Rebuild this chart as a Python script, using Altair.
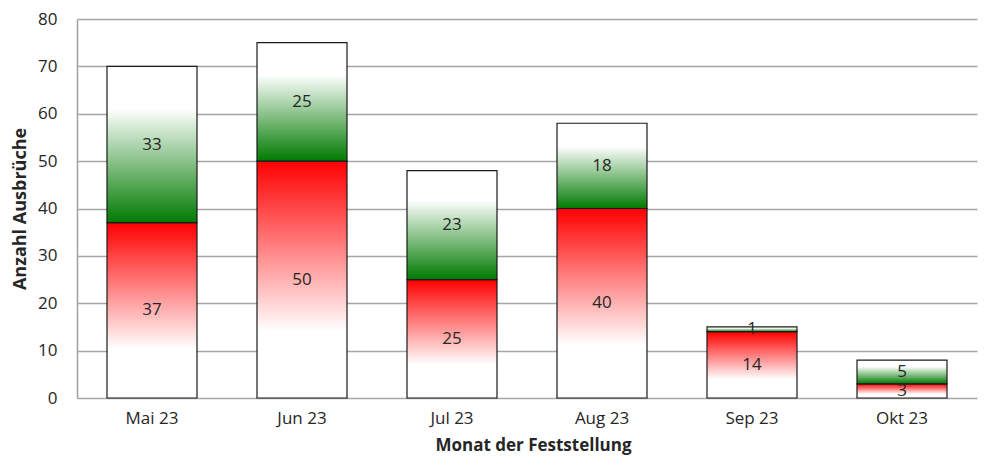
import altair as alt
import pandas as pd

months = ["Mai 23", "Jun 23", "Jul 23", "Aug 23", "Sep 23", "Okt 23"]
rot = [37, 50, 25, 40, 14, 3]
gruen = [33, 25, 23, 18, 1, 5]

df = pd.DataFrame({"Monat": months, "rot": rot, "gruen": gruen})

FONT = "Open Sans"
W, H = 900, 379

red_grad = alt.LinearGradient(
    gradient="linear", x1=0, y1=0, x2=0, y2=1,
    stops=[alt.GradientStop(color="#ff0000", offset=0),
           alt.GradientStop(color="#ffffff", offset=0.72),
           alt.GradientStop(color="#ffffff", offset=1)])
green_grad = alt.LinearGradient(
    gradient="linear", x1=0, y1=0, x2=0, y2=1,
    stops=[alt.GradientStop(color="#ffffff", offset=0),
           alt.GradientStop(color="#ffffff", offset=0.27),
           alt.GradientStop(color="#007a00", offset=1)])

x_enc = alt.X("Monat:N", sort=months,
              scale=alt.Scale(paddingInner=0.4, paddingOuter=0.2),
              axis=alt.Axis(title="Monat der Feststellung", labelAngle=0,
                            ticks=False, domain=False, labelPadding=12,
                            labelFontSize=17, labelBaseline="top",
                            titleFontSize=17, titleFontWeight="bold",
                            titleX=W / 2 + 6, titleY=47, titleBaseline="middle",
                            labelFont=FONT, titleFont=FONT,
                            labelColor="#262626", titleColor="#262626"))

y_scale = alt.Scale(domain=[0, 80])
y_axis = alt.Axis(title="Anzahl Ausbrüche", values=list(range(0, 81, 10)),
                  ticks=False, domain=True, domainColor="#a0a0a0", domainWidth=1.5,
                  labelPadding=20, labelFontSize=17,
                  titleFontSize=18, titleFontWeight="bold",
                  titleAngle=270, titleX=-57, titleY=H / 2,
                  titleBaseline="middle", titleAlign="center",
                  labelFont=FONT, titleFont=FONT,
                  labelColor="#262626", titleColor="#262626",
                  gridColor="#a6a6a6", gridWidth=1.5)

base = alt.Chart(df).transform_calculate(
    total="datum.rot + datum.gruen",
    rmid="datum.rot / 2",
    gmid="datum.rot + datum.gruen / 2",
)

red_bar = base.mark_bar(color=red_grad, stroke="#1a1a1a", strokeWidth=1.2).encode(
    x=x_enc,
    y=alt.Y("rot:Q", scale=y_scale, axis=y_axis),
    y2=alt.datum(0),
)
green_bar = base.mark_bar(color=green_grad, stroke="#1a1a1a", strokeWidth=1.2).encode(
    x=x_enc,
    y=alt.Y("total:Q", scale=y_scale),
    y2="rot:Q",
)
red_txt = base.mark_text(font=FONT, fontSize=17, color="#262626", baseline="middle").encode(
    x=x_enc, y=alt.Y("rmid:Q", scale=y_scale), text="rot:Q")
green_txt = base.mark_text(font=FONT, fontSize=17, color="#262626", baseline="middle").encode(
    x=x_enc, y=alt.Y("gmid:Q", scale=y_scale), text="gruen:Q")

chart = alt.layer(red_bar, green_bar, red_txt, green_txt).properties(
    width=W, height=H,
    autosize=alt.AutoSizeParams(type="none"),
    padding={"left": 69, "top": 11, "right": 1, "bottom": 60},
).configure(background="white", view=alt.ViewConfig(stroke=None))

chart.save("out.html", embed_options={"renderer": "svg", "actions": False})
